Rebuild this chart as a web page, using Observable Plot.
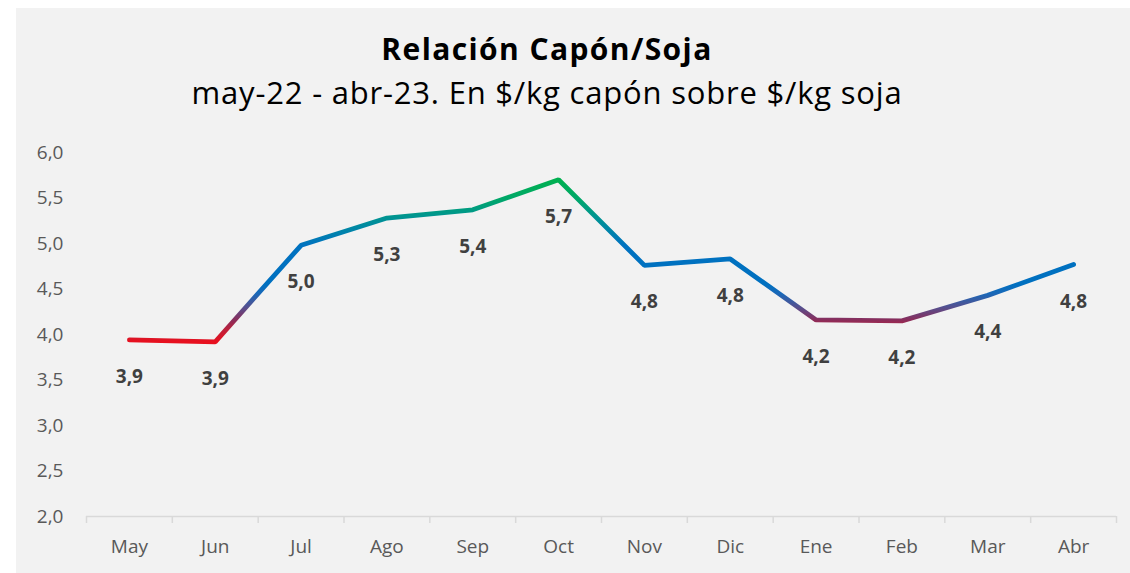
<!DOCTYPE html>
<html>
<head>
<meta charset="utf-8">
<script src="https://cdn.jsdelivr.net/npm/d3@7"></script>
<script src="https://cdn.jsdelivr.net/npm/@observablehq/plot@0.6"></script>
<style>
  html, body { margin: 0; padding: 0; background: #ffffff; }
  #panel { position: absolute; left: 16px; top: 8px; width: 1114px; height: 565px; background: #f2f2f2; overflow: hidden; font-family: "Open Sans", Lato, sans-serif; }
  #title { position: absolute; left: 0; top: 26px; width: 1062px; text-align: center; font-weight: bold; font-size: 30px; letter-spacing: 1.4px; color: #000; line-height: 1; white-space: nowrap; }
  #subtitle { position: absolute; left: 0; top: 69px; width: 1062px; text-align: center; font-size: 31px; letter-spacing: 0.8px; color: #000; line-height: 1; white-space: nowrap; }
  #chart { position: absolute; left: 0; top: 122px; }
</style>
</head>
<body>
<div id="panel">
  <div id="title">Relación Capón/Soja</div>
  <div id="subtitle">may-22 - abr-23. En $/kg capón sobre $/kg soja</div>
  <div id="chart"></div>
</div>
<script>
const months = ["May", "Jun", "Jul", "Ago", "Sep", "Oct", "Nov", "Dic", "Ene", "Feb", "Mar", "Abr"];
const values = [3.94, 3.92, 4.98, 5.28, 5.37, 5.70, 4.76, 4.83, 4.16, 4.15, 4.43, 4.77];
const labels = ["3,9", "3,9", "5,0", "5,3", "5,4", "5,7", "4,8", "4,8", "4,2", "4,2", "4,4", "4,8"];
const yTicks = [2.0, 2.5, 3.0, 3.5, 4.0, 4.5, 5.0, 5.5, 6.0];
const gradientValues = [3.92, 4.05, 4.16, 4.30, 4.45, 4.55, 4.98, 5.15, 5.30, 5.50, 5.70];
const gradientColors = ["#e8101e", "#c0203a", "#8a2d5b", "#55508f", "#1a68b8", "#0070c0", "#0072c0", "#0085a8", "#009590", "#00a868", "#00b050"];

const data = months.map((m, i) => ({i, month: m, value: values[i], label: labels[i]}));

const chart = Plot.plot({
  width: 1114,
  height: 443,
  marginTop: 22,
  marginBottom: 57,
  marginLeft: 70,
  marginRight: 14,
  style: {background: "transparent", fontFamily: "'Open Sans', Lato, sans-serif", overflow: "visible"},
  x: {type: "linear", domain: [-0.5, 11.5]},
  y: {domain: [2, 6]},
  marks: [
    Plot.ruleY([2], {stroke: "#d9d9d9", strokeWidth: 1.5}),
    Plot.axisX({ticks: d3.range(13).map(k => k - 0.5), tickFormat: () => "", tickSize: 7, stroke: "#d9d9d9", strokeWidth: 1.5, label: null}),
    Plot.axisX({ticks: d3.range(12), tickFormat: k => months[k], tickSize: 0, tickPadding: 23, fontSize: 19, fill: "#595959", label: null}),
    Plot.axisY({ticks: yTicks, tickFormat: v => v.toFixed(1).replace(".", ","), tickSize: 0, tickPadding: 23, fontSize: 19, fill: "#595959", label: null}),
    Plot.line(data, {x: "i", y: "value", stroke: "url(#capon-grad)", strokeWidth: 4.8, strokeLinecap: "round", strokeLinejoin: "miter"}),
    Plot.text(data, {x: "i", y: "value", text: "label", dy: 37, fontSize: 19, fontWeight: "bold", fill: "#404040"})
  ]
});

const ys = chart.scale("y");
const svgNS = "http://www.w3.org/2000/svg";
const defs = document.createElementNS(svgNS, "defs");
const grad = document.createElementNS(svgNS, "linearGradient");
grad.setAttribute("id", "capon-grad");
grad.setAttribute("gradientUnits", "userSpaceOnUse");
grad.setAttribute("x1", "0");
grad.setAttribute("x2", "0");
const yA = ys.apply(gradientValues[0]);
const yB = ys.apply(gradientValues[gradientValues.length - 1]);
grad.setAttribute("y1", yA);
grad.setAttribute("y2", yB);
gradientValues.forEach((v, k) => {
  const stop = document.createElementNS(svgNS, "stop");
  stop.setAttribute("offset", (ys.apply(v) - yA) / (yB - yA));
  stop.setAttribute("stop-color", gradientColors[k]);
  grad.appendChild(stop);
});
defs.appendChild(grad);
chart.insertBefore(defs, chart.firstChild);

document.getElementById("chart").appendChild(chart);
</script>
</body>
</html>
